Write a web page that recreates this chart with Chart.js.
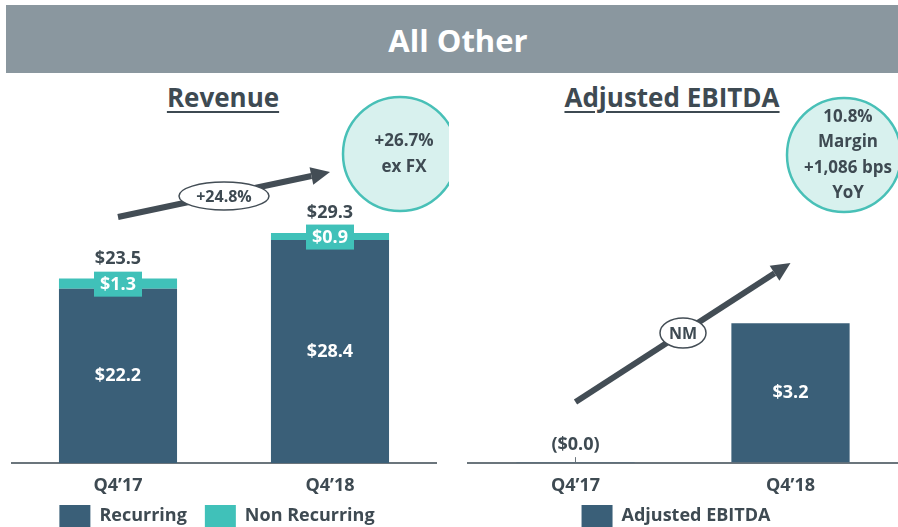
<!DOCTYPE html>
<html lang="en">
<head>
<meta charset="UTF-8">
<title>All Other</title>
<style>
    body {
        margin: 0;
        width: 898px;
        height: 527px;
        overflow: hidden;
        background: #fff;
        position: relative;
        font-family: "Open Sans", Arial, sans-serif;
    }
    .header {
        position: absolute;
        left: 6px;
        top: 5px;
        width: 892px;
        height: 68px;
        background: #8a979f;
        color: #fff;
        font-weight: bold;
        font-size: 31px;
        line-height: 70px;
        text-align: center;
        text-indent: 12px;
    }
    .title {
        position: absolute;
        top: 79px;
        font-size: 26px;
        font-weight: bold;
        color: #3e4a52;
        text-decoration: underline;
        text-decoration-thickness: 2px;
        text-underline-offset: 4px;
        transform: translateX(-50%);
        white-space: nowrap;
    }
    .box {
        position: absolute;
        top: 80px;
        width: 449px;
        height: 457px;
    }
</style>
</head>
<body>
<div class="header">All Other</div>
<div class="title" style="left:223px">Revenue</div>
<div class="title" style="left:672px">Adjusted EBITDA</div>
<div class="box" style="left:0"><canvas id="revenueChart"></canvas></div>
<div class="box" style="left:449px"><canvas id="ebitdaChart"></canvas></div>

<script src="https://cdn.jsdelivr.net/npm/chart.js"></script>
<script>
    const quarters = ['Q4\u201917', 'Q4\u201918'];
    const recurring = [22.2, 28.4];
    const nonRecurring = [1.3, 0.9];
    const revenueTotals = [23.5, 29.3];
    const ebitda = [-0.01, 3.2];

    const DARK = '#3a5f78';
    const TEAL = '#40c1b9';
    const TEXT = '#3e4a52';
    const FONT = '"Open Sans", Arial, sans-serif';

    function money(v) {
        const s = '$' + Math.abs(v).toFixed(1);
        return v < 0 ? '(' + s + ')' : s;
    }

    function drawArrow(ctx, x1, y1, x2, y2) {
        const a = Math.atan2(y2 - y1, x2 - x1);
        const hl = 19, hw = 9;
        const bx = x2 - hl * Math.cos(a), by = y2 - hl * Math.sin(a);
        ctx.strokeStyle = '#434d55';
        ctx.fillStyle = '#434d55';
        ctx.lineWidth = 6;
        ctx.beginPath();
        ctx.moveTo(x1, y1);
        ctx.lineTo(bx, by);
        ctx.stroke();
        ctx.beginPath();
        ctx.moveTo(x2, y2);
        ctx.lineTo(bx + hw * Math.sin(a), by - hw * Math.cos(a));
        ctx.lineTo(bx - hw * Math.sin(a), by + hw * Math.cos(a));
        ctx.closePath();
        ctx.fill();
    }

    function drawBubble(ctx, cx, cy, rx, ry, text) {
        ctx.beginPath();
        ctx.ellipse(cx, cy, rx, ry, 0, 0, Math.PI * 2);
        ctx.fillStyle = '#fff';
        ctx.fill();
        ctx.lineWidth = 1.5;
        ctx.strokeStyle = '#434d55';
        ctx.stroke();
        ctx.fillStyle = TEXT;
        ctx.font = 'bold 16px ' + FONT;
        ctx.textAlign = 'center';
        ctx.textBaseline = 'middle';
        ctx.fillText(text, cx, cy + 1);
    }

    function drawCircle(ctx, cx, cy, r, lines) {
        ctx.beginPath();
        ctx.arc(cx, cy, r, 0, Math.PI * 2);
        ctx.fillStyle = '#d8f1ee';
        ctx.fill();
        ctx.lineWidth = 2.5;
        ctx.strokeStyle = '#48c0b7';
        ctx.stroke();
        ctx.fillStyle = TEXT;
        ctx.font = 'bold 17px ' + FONT;
        ctx.textAlign = 'center';
        ctx.textBaseline = 'middle';
        const lh = 25.5;
        lines.forEach((t, i) => {
            ctx.fillText(t, cx + 4, cy + (i - (lines.length - 1) / 2) * lh);
        });
    }

    const revenueLabels = {
        id: 'revenueLabels',
        afterDatasetsDraw(chart) {
            const ctx = chart.ctx;
            const rec = chart.getDatasetMeta(0).data;
            const non = chart.getDatasetMeta(1).data;
            ctx.save();
            ctx.font = 'bold 18px ' + FONT;
            ctx.textAlign = 'center';
            ctx.textBaseline = 'middle';
            rec.forEach((bar, i) => {
                ctx.fillStyle = '#fff';
                ctx.fillText(money(recurring[i]), bar.x, (bar.y + bar.base) / 2);
                const top = non[i];
                const cy = (top.y + top.base) / 2;
                ctx.fillStyle = TEAL;
                ctx.fillRect(bar.x - 24, cy - 12, 48, 25);
                ctx.fillStyle = '#fff';
                ctx.fillText(money(nonRecurring[i]), bar.x, cy + 1);
                ctx.fillStyle = TEXT;
                ctx.fillText(money(revenueTotals[i]), bar.x, top.y - 20);
            });
            // growth arrow between the two quarters
            const x0 = rec[0].x, x1 = rec[1].x;
            drawArrow(ctx, x0, 137, x1, 92);
            drawBubble(ctx, (x0 + x1) / 2, 116, 45, 14, '+24.8%');
            drawCircle(ctx, 400, 74, 57, ['+26.7%', 'ex FX']);
            ctx.restore();
        }
    };

    const ebitdaLabels = {
        id: 'ebitdaLabels',
        afterDatasetsDraw(chart) {
            const ctx = chart.ctx;
            const bars = chart.getDatasetMeta(0).data;
            ctx.save();
            ctx.font = 'bold 18px ' + FONT;
            ctx.textAlign = 'center';
            ctx.textBaseline = 'middle';
            bars.forEach((bar, i) => {
                if (ebitda[i] > 0.5) {
                    ctx.fillStyle = '#fff';
                    ctx.fillText(money(ebitda[i]), bar.x, (bar.y + bar.base) / 2);
                } else {
                    ctx.fillStyle = TEXT;
                    ctx.fillText(money(ebitda[i]), bar.x, bar.base - 17);
                    // small tick where the near-zero bar sits
                    ctx.fillStyle = '#6b757c';
                    ctx.fillRect(bar.x - 0.5, bar.base - 5, 1, 5);
                }
            });
            const x0 = bars[0].x, x1 = bars[1].x;
            drawArrow(ctx, x0, 322, x1, 183);
            drawBubble(ctx, (x0 + x1) / 2, 253, 23, 15, 'NM');
            drawCircle(ctx, 395, 75, 57, ['10.8%', 'Margin', '+1,086 bps', 'YoY']);
            ctx.restore();
        }
    };

    function xAxis() {
        return {
            stacked: true,
            grid: { display: false },
            border: { display: true, color: '#6b757c', width: 2 },
            ticks: { color: TEXT, font: { family: FONT, size: 18, weight: 'bold', lineHeight: 1 }, padding: 6 }
        };
    }

    function legendOpts() {
        return {
            position: 'bottom',
            labels: {
                color: TEXT,
                boxWidth: 31,
                boxHeight: 22,
                padding: 4,
                font: { family: FONT, size: 18, weight: 'bold' },
                generateLabels(chart) {
                    const items = Chart.defaults.plugins.legend.labels.generateLabels(chart);
                    items.forEach(it => { it.text = it.text + '   '; });
                    return items;
                }
            }
        };
    }

    new Chart(document.getElementById('revenueChart'), {
        type: 'bar',
        data: {
            labels: quarters,
            datasets: [
                { label: 'Recurring', data: recurring, backgroundColor: DARK, borderWidth: 0,
                  categoryPercentage: 1, barPercentage: 0.557 },
                { label: 'Non Recurring', data: nonRecurring, backgroundColor: TEAL, borderWidth: 0,
                  categoryPercentage: 1, barPercentage: 0.557 }
            ]
        },
        options: {
            responsive: true,
            maintainAspectRatio: false,
            animation: false,
            layout: { padding: { left: 12, right: 13, top: 0, bottom: 0 } },
            plugins: { legend: legendOpts(), tooltip: { enabled: false } },
            scales: {
                x: xAxis(),
                y: { stacked: true, display: false, min: 0, max: 48.8 }
            }
        },
        plugins: [revenueLabels]
    });

    new Chart(document.getElementById('ebitdaChart'), {
        type: 'bar',
        data: {
            labels: quarters,
            datasets: [
                { label: 'Adjusted EBITDA', data: ebitda, backgroundColor: DARK, borderWidth: 0,
                  categoryPercentage: 1, barPercentage: 0.55 }
            ]
        },
        options: {
            responsive: true,
            maintainAspectRatio: false,
            animation: false,
            layout: { padding: { left: 19, right: 0, top: 0, bottom: 0 } },
            plugins: { legend: legendOpts(), tooltip: { enabled: false } },
            scales: {
                x: xAxis(),
                y: { display: false, min: -0.02, max: 8.8 }
            }
        },
        plugins: [ebitdaLabels]
    });
</script>
</body>
</html>
